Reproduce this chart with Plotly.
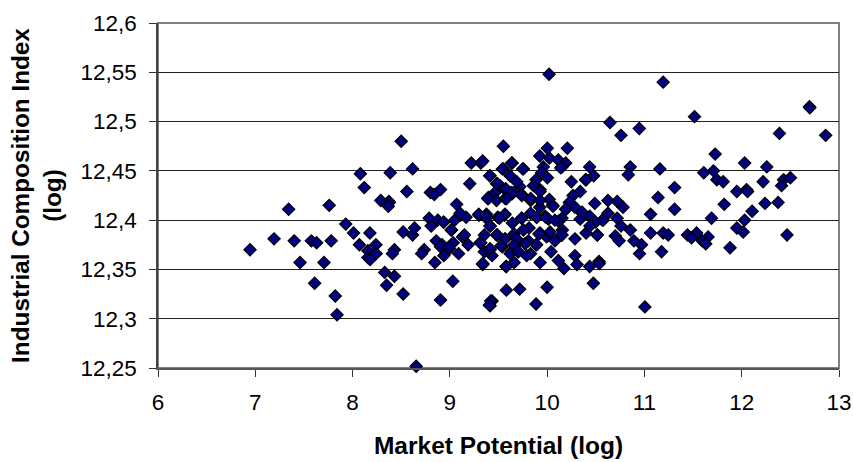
import plotly.graph_objects as go

x_title = "Market Potential (log)"
y_title = "Industrial Composition Index<br>(log)"
x_ticks = [6, 7, 8, 9, 10, 11, 12, 13]
x_labels = ["6", "7", "8", "9", "10", "11", "12", "13"]
y_ticks = [12.25, 12.3, 12.35, 12.4, 12.45, 12.5, 12.55, 12.6]
y_labels = ["12,25", "12,3", "12,35", "12,4", "12,45", "12,5", "12,55", "12,6"]

upper_left = [
 (8.50,12.480),(8.08,12.447),(8.387,12.448),(8.617,12.452),(8.12,12.433),(8.558,12.429),(8.80,12.428),(8.84,12.426),
 (8.904,12.431),(9.205,12.437),(9.22,12.458),(9.318,12.458),(9.338,12.460),(9.41,12.445),(9.48,12.437),(9.465,12.428),
 (9.397,12.423),(8.29,12.420),(8.373,12.419),(8.38,12.418),(8.367,12.414),(9.07,12.416),(7.343,12.411),(7.76,12.415),
]
lower_left = [
 (6.946,12.370),(7.193,12.381),(7.40,12.379),(7.576,12.379),(7.63,12.377),(7.78,12.379),(7.46,12.357),(7.706,12.357),
 (7.61,12.336),(7.822,12.323),(7.84,12.304),(7.93,12.396),(8.01,12.387),(8.178,12.387),(8.07,12.375),(8.24,12.375),
 (8.158,12.369),(8.243,12.366),(8.158,12.362),(8.18,12.360),(8.33,12.347),(8.43,12.343),(8.35,12.334),(8.52,12.325),
 (8.43,12.370),(8.41,12.366),(8.52,12.388),(8.617,12.385),(8.637,12.392),(8.736,12.370),(8.71,12.366),(8.846,12.357),
 (8.904,12.319),(9.03,12.338),(8.654,12.2517),(8.787,12.402),(8.808,12.394),(8.876,12.400),(8.938,12.398),(9.05,12.400),
 (9.017,12.390),(8.86,12.379),(8.92,12.375),(8.904,12.373),(9.034,12.377),(8.996,12.371),(8.938,12.364),(9.09,12.366),
 (9.188,12.375),(9.13,12.383),(9.15,12.385),(9.11,12.405),(9.167,12.403),(9.30,12.405),(9.376,12.406),(9.376,12.402),
 (9.414,12.394),(9.492,12.403),(9.355,12.385),(9.48,12.385),(9.318,12.377),(9.355,12.368),(9.414,12.370),(9.434,12.364),
 (9.338,12.355),(9.434,12.318),(9.414,12.313),(9.397,12.422),(9.48,12.420),
]
upper_right = [
 (10.02,12.548),(11.193,12.540),(11.515,12.505),(10.646,12.499),(10.947,12.493),(10.759,12.486),(12.696,12.515),(12.70,12.514),
 (12.388,12.488),(12.863,12.486),(11.727,12.467),(12.03,12.458),(12.258,12.454),(11.71,12.450),(11.61,12.448),(11.744,12.441),
 (11.81,12.439),(11.159,12.452),(10.855,12.454),(10.834,12.446),(10.437,12.454),(10.478,12.445),(10.40,12.441),(10.249,12.439),
 (10.34,12.429),(10.266,12.425),(11.31,12.433),(11.14,12.423),(11.95,12.429),(12.05,12.431),(12.06,12.429),(12.22,12.439),
 (12.43,12.441),(12.50,12.443),(12.41,12.435),(10.208,12.473),(10.002,12.473),(9.924,12.465),(10.023,12.463),(10.115,12.461),
 (10.19,12.458),(10.153,12.454),(9.961,12.454),(9.944,12.448),(10.002,12.443),(9.886,12.441),(9.927,12.431),(9.859,12.435),
 (9.756,12.452),(9.64,12.458),(9.55,12.475),(9.55,12.452),(9.619,12.445),(9.72,12.434),(9.739,12.426),(9.568,12.431),(9.516,12.435),
]
lower_right = [
 (10.625,12.420),(10.72,12.419),(10.78,12.413),(10.49,12.417),(10.228,12.418),(10.286,12.413),(10.19,12.411),(10.36,12.407),
 (10.437,12.404),(10.625,12.407),(10.567,12.400),(10.72,12.402),(10.759,12.394),(10.855,12.390),(10.498,12.398),(10.34,12.401),
 (10.153,12.402),(10.115,12.399),(10.013,12.401),(9.978,12.404),(9.893,12.403),(9.83,12.407),(9.924,12.413),(10.023,12.421),
 (10.057,12.415),(9.83,12.420),(9.739,12.425),(9.643,12.427),(9.568,12.422),(9.56,12.405),(9.739,12.402),(9.643,12.397),
 (9.814,12.392),(9.756,12.390),(9.66,12.386),(9.568,12.381),(9.698,12.377),(9.807,12.379),(9.773,12.376),(9.886,12.375),
 (9.927,12.387),(9.995,12.383),(10.03,12.388),(10.156,12.390),(10.153,12.385),(10.08,12.379),(10.286,12.381),(10.40,12.387),
 (10.44,12.394),(10.516,12.385),(10.70,12.384),(10.74,12.379),(10.892,12.379),(10.97,12.375),(10.95,12.366),(11.063,12.387),
 (11.063,12.406),(11.31,12.411),(11.69,12.402),(11.82,12.416),(12.24,12.417),(12.374,12.418),(12.107,12.409),(12.03,12.400),
 (11.95,12.392),(12.015,12.388),(12.466,12.385),(11.88,12.372),(11.655,12.383),(11.594,12.379),(11.63,12.376),(11.536,12.387),
 (11.443,12.385),(11.484,12.382),(11.193,12.387),(11.245,12.385),(11.176,12.368),(10.04,12.368),(9.83,12.366),(9.79,12.364),
 (9.636,12.368),(9.62,12.366),(9.70,12.368),(9.54,12.373),(9.66,12.357),(9.58,12.353),(9.927,12.357),(10.115,12.359),
 (10.173,12.351),(10.286,12.364),(10.307,12.355),(10.437,12.353),(10.533,12.358),(10.536,12.356),(10.475,12.336),(10.0,12.332),
 (9.718,12.330),(9.581,12.329),(9.886,12.315),(11.005,12.312),
]
center = [
 (9.636,12.458),(9.54,12.452),(9.749,12.452),(9.413,12.445),(9.489,12.437),(9.687,12.439),(9.574,12.432),(9.636,12.428),
 (9.389,12.422),(9.584,12.422),(9.831,12.422),(9.927,12.420),(9.927,12.429),(10.14,12.453),(10.395,12.441),(10.06,12.414),
 (8.934,12.398),(9.013,12.390),(9.105,12.407),(9.297,12.406),(9.379,12.403),(9.413,12.394),(9.567,12.406),(9.509,12.402),
 (9.738,12.402),(9.892,12.403),(9.988,12.403),(10.08,12.400),(10.194,12.411),(10.36,12.408),(10.577,12.400),(10.515,12.385),
 (10.149,12.385),(9.916,12.386),(9.892,12.375),(9.687,12.381),(9.567,12.381),(9.489,12.385),(9.311,12.377),(8.986,12.372),
 (9.413,12.371),(9.526,12.374),(9.66,12.375),(9.704,12.368),(9.338,12.356),(9.578,12.353),(9.42,12.318),(9.406,12.314),
]

points = upper_left + lower_left + upper_right + lower_right + center
x_values = [p[0] for p in points]
y_values = [p[1] for p in points]

font = "Liberation Sans, Arial, sans-serif"
fig = go.Figure(go.Scatter(
    x=x_values, y=y_values, mode="markers", cliponaxis=False,
    marker=dict(symbol="diamond", size=9.4, color="#000080", line=dict(color="#000000", width=1.2)),
))
fig.update_layout(
    width=853, height=462, showlegend=False,
    margin=dict(l=157.5, r=14, t=23, b=94.3, autoexpand=False),
    paper_bgcolor="white", plot_bgcolor="white",
    font=dict(family=font, size=22.5, color="black"),
)
fig.update_xaxes(
    range=[6, 13], tickvals=x_ticks, ticktext=x_labels, ticks="outside", ticklen=7, tickcolor="#333333",
    showgrid=False, zeroline=False, showline=True, linecolor="#555555", linewidth=1.5,
    tickfont=dict(size=22.5), ticklabelstandoff=6,
    title=dict(text=x_title, font=dict(size=24.5, family=font, weight="bold"), standoff=23),
)
fig.update_yaxes(
    range=[12.25, 12.6], tickvals=y_ticks, ticktext=y_labels, ticks="outside", ticklen=7, tickcolor="#333333",
    showgrid=True, gridcolor="#222222", gridwidth=1, zeroline=False, showline=True, linecolor="#444444", linewidth=1.5,
    tickfont=dict(size=22.5), ticklabelstandoff=8,
    title=dict(text=y_title, font=dict(size=24.3, family=font, weight="bold"), standoff=12),
)
fig.add_shape(type="rect", xref="paper", yref="paper", x0=0, x1=1, y0=0, y1=1, line=dict(color="#808080", width=2), layer="below")
fig.write_html("out.html", config={"displayModeBar": False},
               post_script="document.body.style.margin='0';document.documentElement.style.overflow='hidden';")
